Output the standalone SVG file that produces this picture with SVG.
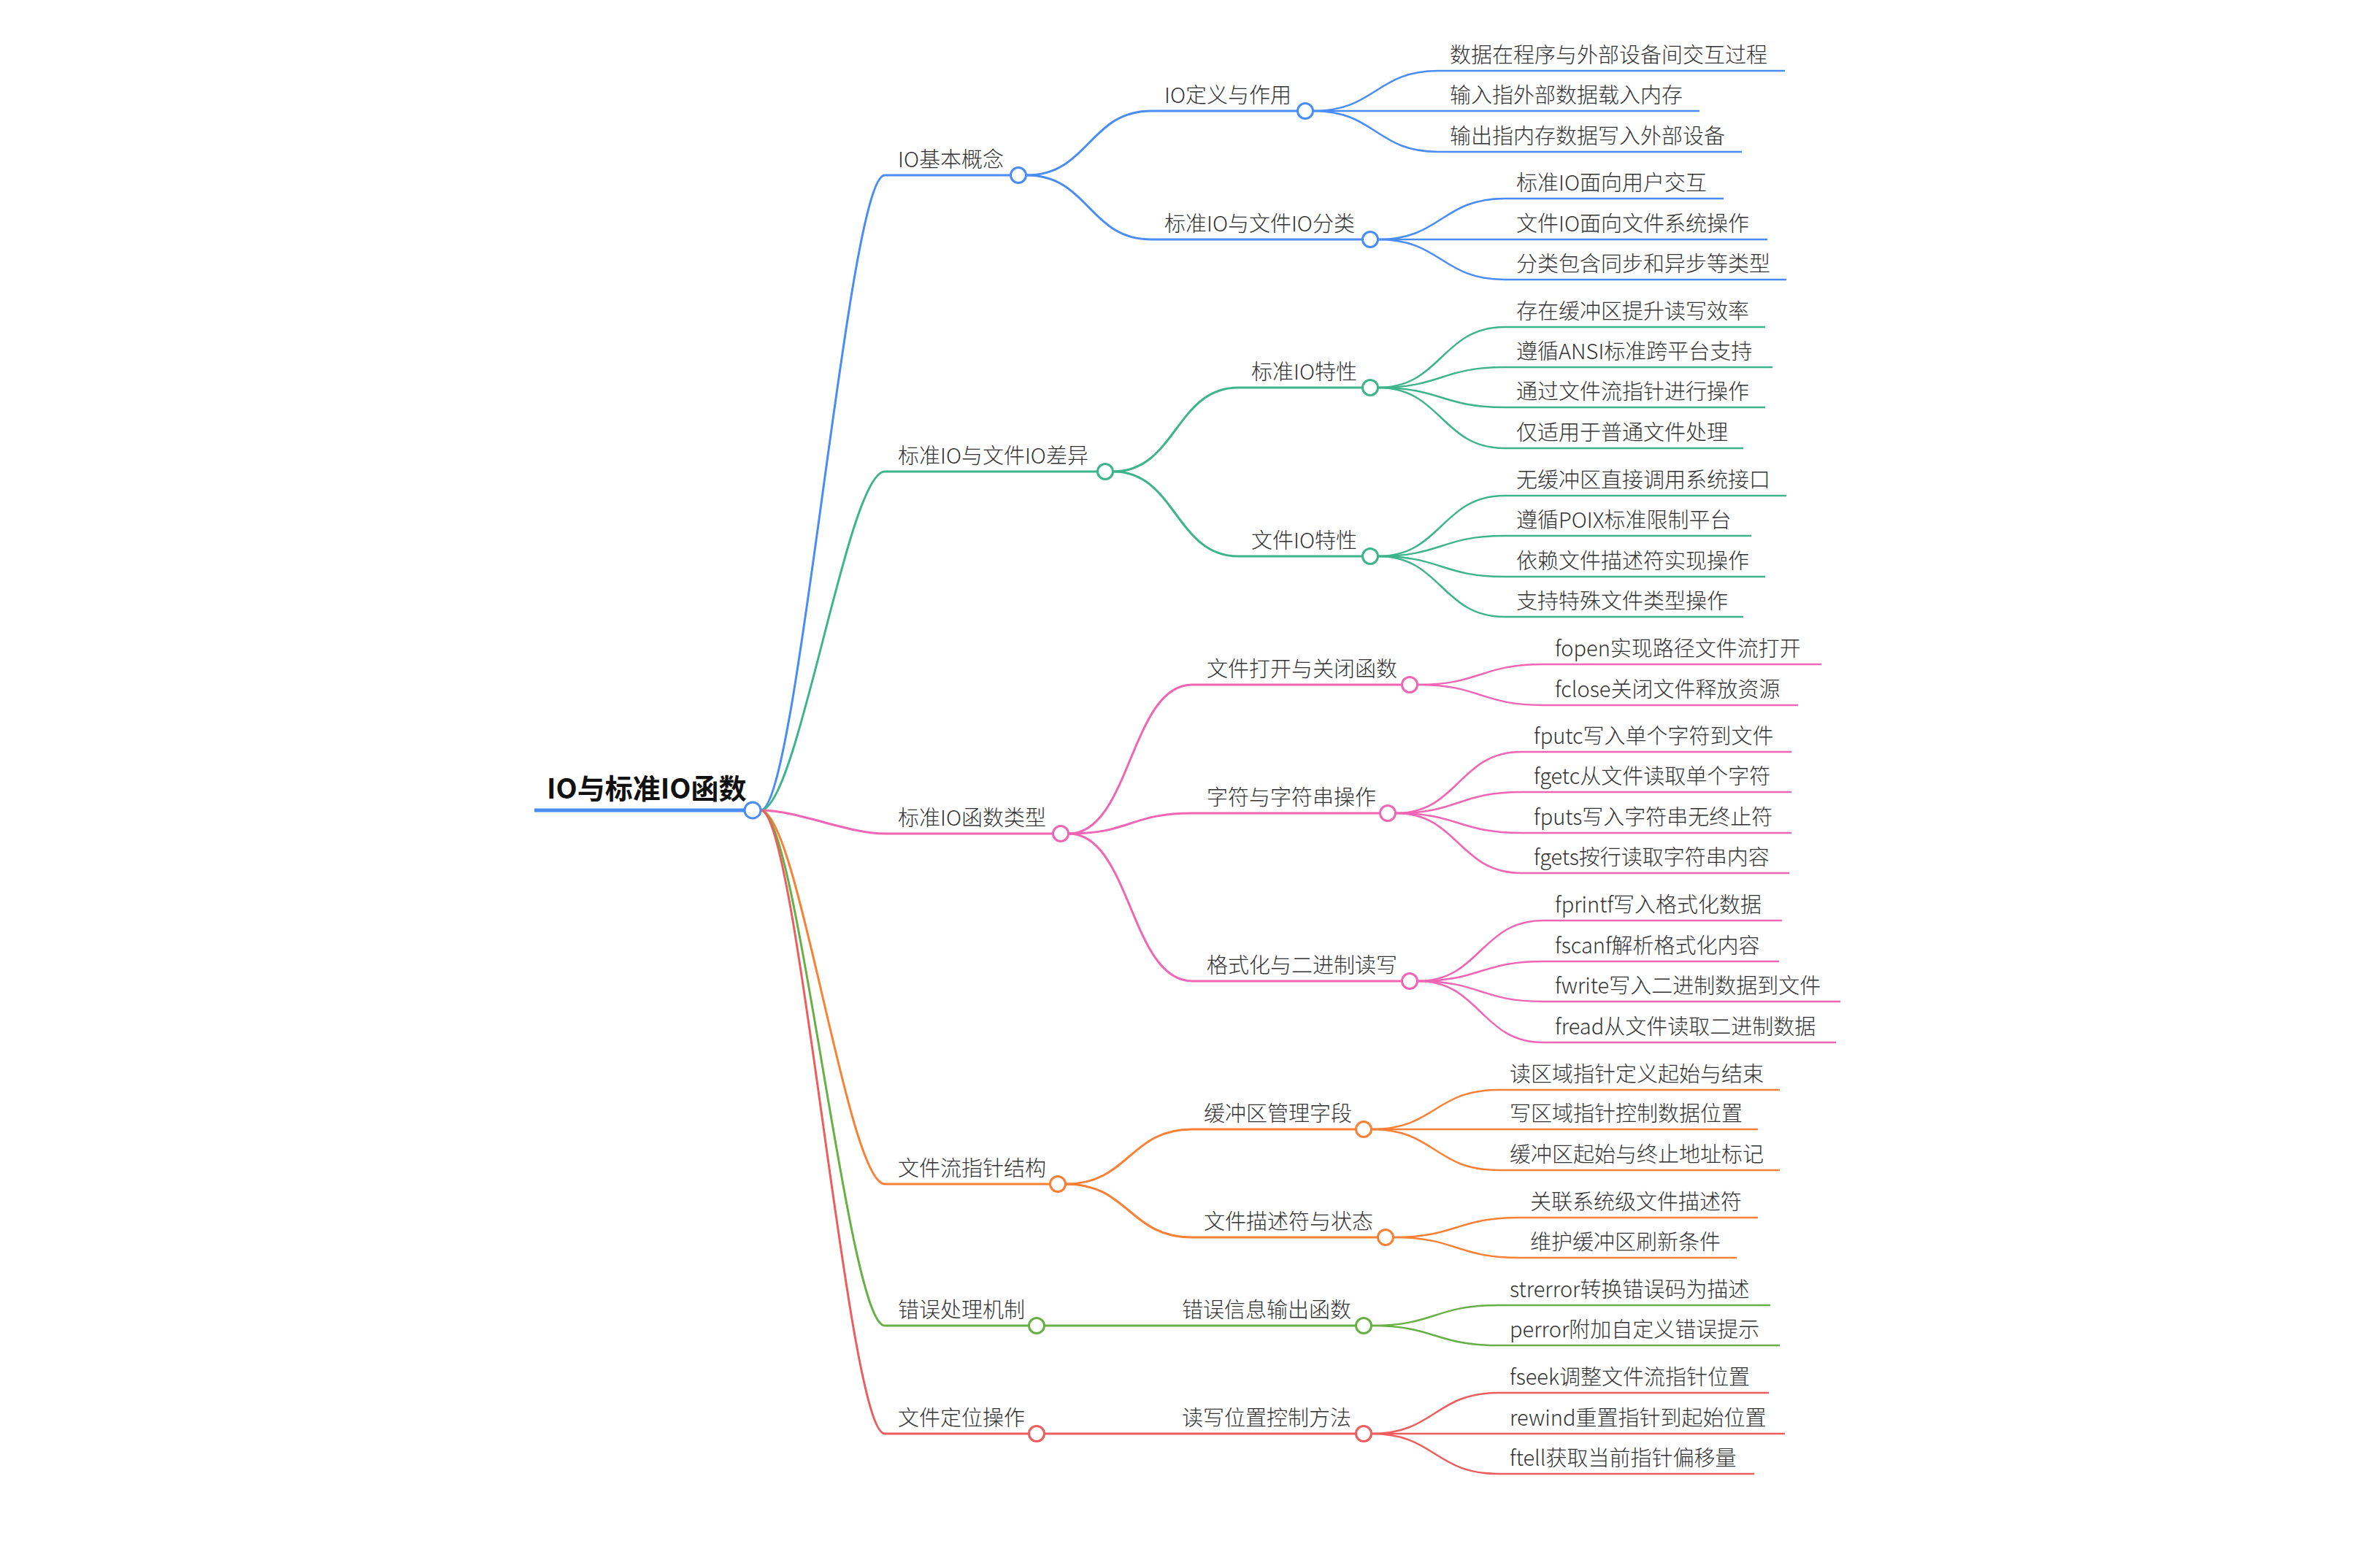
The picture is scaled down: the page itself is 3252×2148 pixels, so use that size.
<svg xmlns="http://www.w3.org/2000/svg" width="3252" height="2148" viewBox="0 0 3252 2148">
<style>
text{font-family:"Noto Sans CJK SC","Noto Sans",sans-serif;font-size:29px;fill:#333;font-weight:300}
.root{font-size:38px;font-weight:700;fill:#111}
path,line{fill:none;stroke-linecap:butt}
.c{fill:#fff;stroke-width:3}
.l1{stroke-width:3}
.l2{stroke-width:3}
.lf{stroke-width:2.5}
.b{stroke:#4A8CF6}.g{stroke:#3DB48C}.p{stroke:#F065B4}.o{stroke:#F98034}.e{stroke:#66B045}.r{stroke:#EE5D5D}
</style>
<rect width="3252" height="2148" fill="#fff"/>
<g id="connectors">
<path class="l1 b" d="M1042 1110 C1093 1110,1161 240,1212 240"/>
<path class="l1 g" d="M1042 1110 C1093 1110,1161 646,1212 646"/>
<path class="l1 p" d="M1042 1110 C1093 1110,1161 1142,1212 1142"/>
<path class="l1 o" d="M1042 1110 C1093 1110,1161 1622,1212 1622"/>
<path class="l1 e" d="M1042 1110 C1093 1110,1161 1816,1212 1816"/>
<path class="l1 r" d="M1042 1110 C1093 1110,1161 1964,1212 1964"/>
<path class="l2 b" d="M1406 240 C1491.5 240,1491.5 152,1577 152"/>
<path class="l2 b" d="M1406 240 C1491.5 240,1491.5 328,1577 328"/>
<path class="l2 g" d="M1525 646 C1610.5 646,1610.5 531,1696 531"/>
<path class="l2 g" d="M1525 646 C1610.5 646,1610.5 762,1696 762"/>
<path class="l2 p" d="M1464 1142 C1548.5 1142,1548.5 938,1633 938"/>
<path class="l2 p" d="M1464 1142 C1548.5 1142,1548.5 1114,1633 1114"/>
<path class="l2 p" d="M1464 1142 C1548.5 1142,1548.5 1344,1633 1344"/>
<path class="l2 o" d="M1460 1622 C1546.5 1622,1546.5 1547,1633 1547"/>
<path class="l2 o" d="M1460 1622 C1546.5 1622,1546.5 1695,1633 1695"/>
<path class="l2 e" d="M1431 1816 L1601 1816"/>
<path class="l2 r" d="M1431 1964 L1601 1964"/>
<path class="lf b" d="M1799 152 C1884.5 152,1884.5 97,1970 97"/>
<path class="lf b" d="M1799 152 L1970 152"/>
<path class="lf b" d="M1799 152 C1884.5 152,1884.5 208,1970 208"/>
<path class="lf b" d="M1888 328 C1974.5 328,1974.5 272,2061 272"/>
<path class="lf b" d="M1888 328 L2061 328"/>
<path class="lf b" d="M1888 328 C1974.5 328,1974.5 383,2061 383"/>
<path class="lf g" d="M1888 531 C1974.5 531,1974.5 448,2061 448"/>
<path class="lf g" d="M1888 531 C1974.5 531,1974.5 503,2061 503"/>
<path class="lf g" d="M1888 531 C1974.5 531,1974.5 558,2061 558"/>
<path class="lf g" d="M1888 531 C1974.5 531,1974.5 614,2061 614"/>
<path class="lf g" d="M1888 762 C1974.5 762,1974.5 679,2061 679"/>
<path class="lf g" d="M1888 762 C1974.5 762,1974.5 734,2061 734"/>
<path class="lf g" d="M1888 762 C1974.5 762,1974.5 790,2061 790"/>
<path class="lf g" d="M1888 762 C1974.5 762,1974.5 845,2061 845"/>
<path class="lf p" d="M1942 938 C2028 938,2028 910,2114 910"/>
<path class="lf p" d="M1942 938 C2028 938,2028 966,2114 966"/>
<path class="lf p" d="M1912 1114 C1998 1114,1998 1030,2084 1030"/>
<path class="lf p" d="M1912 1114 C1998 1114,1998 1085,2084 1085"/>
<path class="lf p" d="M1912 1114 C1998 1114,1998 1141,2084 1141"/>
<path class="lf p" d="M1912 1114 C1998 1114,1998 1196,2084 1196"/>
<path class="lf p" d="M1942 1344 C2028 1344,2028 1261,2114 1261"/>
<path class="lf p" d="M1942 1344 C2028 1344,2028 1317,2114 1317"/>
<path class="lf p" d="M1942 1344 C2028 1344,2028 1372,2114 1372"/>
<path class="lf p" d="M1942 1344 C2028 1344,2028 1428,2114 1428"/>
<path class="lf o" d="M1879 1547 C1965.5 1547,1965.5 1493,2052 1493"/>
<path class="lf o" d="M1879 1547 L2052 1547"/>
<path class="lf o" d="M1879 1547 C1965.5 1547,1965.5 1603,2052 1603"/>
<path class="lf o" d="M1909 1695 C1995 1695,1995 1668,2081 1668"/>
<path class="lf o" d="M1909 1695 C1995 1695,1995 1723,2081 1723"/>
<path class="lf e" d="M1879 1816 C1965.5 1816,1965.5 1788,2052 1788"/>
<path class="lf e" d="M1879 1816 C1965.5 1816,1965.5 1843,2052 1843"/>
<path class="lf r" d="M1879 1964 C1965.5 1964,1965.5 1908,2052 1908"/>
<path class="lf r" d="M1879 1964 L2052 1964"/>
<path class="lf r" d="M1879 1964 C1965.5 1964,1965.5 2019,2052 2019"/>
</g>
<g id="root"><line x1="732" y1="1110" x2="1020" y2="1110" stroke="#4A8CF6" stroke-width="5"/><text class="root" x="749" y="1094">IO与标准IO函数</text><circle class="c b" cx="1031" cy="1110" r="11"/></g>
<g id="n1"><line class="l1 b" x1="1212" y1="240" x2="1385" y2="240"/><text x="1230" y="229">IO基本概念</text><circle class="c b" cx="1395" cy="240" r="10.5"/></g>
<g id="n2"><line class="l1 g" x1="1212" y1="646" x2="1504" y2="646"/><text x="1230" y="635">标准IO与文件IO差异</text><circle class="c g" cx="1514" cy="646" r="10.5"/></g>
<g id="n3"><line class="l1 p" x1="1212" y1="1142" x2="1443" y2="1142"/><text x="1230" y="1131">标准IO函数类型</text><circle class="c p" cx="1453" cy="1142" r="10.5"/></g>
<g id="n4"><line class="l1 o" x1="1212" y1="1622" x2="1439" y2="1622"/><text x="1230" y="1611">文件流指针结构</text><circle class="c o" cx="1449" cy="1622" r="10.5"/></g>
<g id="n5"><line class="l1 e" x1="1212" y1="1816" x2="1410" y2="1816"/><text x="1230" y="1805">错误处理机制</text><circle class="c e" cx="1420" cy="1816" r="10.5"/></g>
<g id="n6"><line class="l1 r" x1="1212" y1="1964" x2="1410" y2="1964"/><text x="1230" y="1953">文件定位操作</text><circle class="c r" cx="1420" cy="1964" r="10.5"/></g>
<g id="n1-1"><line class="l2 b" x1="1577" y1="152" x2="1778" y2="152"/><text x="1595" y="141">IO定义与作用</text><circle class="c b" cx="1788" cy="152" r="10.5"/></g>
<g id="n1-2"><line class="l2 b" x1="1577" y1="328" x2="1867" y2="328"/><text x="1595" y="317">标准IO与文件IO分类</text><circle class="c b" cx="1877" cy="328" r="10.5"/></g>
<g id="n2-1"><line class="l2 g" x1="1696" y1="531" x2="1867" y2="531"/><text x="1714" y="520">标准IO特性</text><circle class="c g" cx="1877" cy="531" r="10.5"/></g>
<g id="n2-2"><line class="l2 g" x1="1696" y1="762" x2="1867" y2="762"/><text x="1714" y="751">文件IO特性</text><circle class="c g" cx="1877" cy="762" r="10.5"/></g>
<g id="n3-1"><line class="l2 p" x1="1633" y1="938" x2="1921" y2="938"/><text x="1653" y="927">文件打开与关闭函数</text><circle class="c p" cx="1931" cy="938" r="10.5"/></g>
<g id="n3-2"><line class="l2 p" x1="1633" y1="1114" x2="1891" y2="1114"/><text x="1653" y="1103">字符与字符串操作</text><circle class="c p" cx="1901" cy="1114" r="10.5"/></g>
<g id="n3-3"><line class="l2 p" x1="1633" y1="1344" x2="1921" y2="1344"/><text x="1653" y="1333">格式化与二进制读写</text><circle class="c p" cx="1931" cy="1344" r="10.5"/></g>
<g id="n4-1"><line class="l2 o" x1="1633" y1="1547" x2="1858" y2="1547"/><text x="1649" y="1536">缓冲区管理字段</text><circle class="c o" cx="1868" cy="1547" r="10.5"/></g>
<g id="n4-2"><line class="l2 o" x1="1633" y1="1695" x2="1888" y2="1695"/><text x="1649" y="1684">文件描述符与状态</text><circle class="c o" cx="1898" cy="1695" r="10.5"/></g>
<g id="n5-1"><line class="l2 e" x1="1601" y1="1816" x2="1858" y2="1816"/><text x="1619" y="1805">错误信息输出函数</text><circle class="c e" cx="1868" cy="1816" r="10.5"/></g>
<g id="n6-1"><line class="l2 r" x1="1601" y1="1964" x2="1858" y2="1964"/><text x="1619" y="1953">读写位置控制方法</text><circle class="c r" cx="1868" cy="1964" r="10.5"/></g>
<g id="leaves">
<g id="l1"><line class="lf b" x1="1970" y1="97" x2="2445" y2="97"/><text x="1986" y="86">数据在程序与外部设备间交互过程</text></g>
<g id="l2"><line class="lf b" x1="1970" y1="152" x2="2328" y2="152"/><text x="1986" y="141">输入指外部数据载入内存</text></g>
<g id="l3"><line class="lf b" x1="1970" y1="208" x2="2386" y2="208"/><text x="1986" y="197">输出指内存数据写入外部设备</text></g>
<g id="l4"><line class="lf b" x1="2061" y1="272" x2="2361" y2="272"/><text x="2077" y="261">标准IO面向用户交互</text></g>
<g id="l5"><line class="lf b" x1="2061" y1="328" x2="2421" y2="328"/><text x="2077" y="317">文件IO面向文件系统操作</text></g>
<g id="l6"><line class="lf b" x1="2061" y1="383" x2="2447" y2="383"/><text x="2077" y="372">分类包含同步和异步等类型</text></g>
<g id="l7"><line class="lf g" x1="2061" y1="448" x2="2418" y2="448"/><text x="2077" y="437">存在缓冲区提升读写效率</text></g>
<g id="l8"><line class="lf g" x1="2061" y1="503" x2="2428" y2="503"/><text x="2077" y="492">遵循ANSI标准跨平台支持</text></g>
<g id="l9"><line class="lf g" x1="2061" y1="558" x2="2418" y2="558"/><text x="2077" y="547">通过文件流指针进行操作</text></g>
<g id="l10"><line class="lf g" x1="2061" y1="614" x2="2388" y2="614"/><text x="2077" y="603">仅适用于普通文件处理</text></g>
<g id="l11"><line class="lf g" x1="2061" y1="679" x2="2447" y2="679"/><text x="2077" y="668">无缓冲区直接调用系统接口</text></g>
<g id="l12"><line class="lf g" x1="2061" y1="734" x2="2399" y2="734"/><text x="2077" y="723">遵循POIX标准限制平台</text></g>
<g id="l13"><line class="lf g" x1="2061" y1="790" x2="2418" y2="790"/><text x="2077" y="779">依赖文件描述符实现操作</text></g>
<g id="l14"><line class="lf g" x1="2061" y1="845" x2="2388" y2="845"/><text x="2077" y="834">支持特殊文件类型操作</text></g>
<g id="l15"><line class="lf p" x1="2114" y1="910" x2="2495" y2="910"/><text x="2130" y="899">fopen实现路径文件流打开</text></g>
<g id="l16"><line class="lf p" x1="2114" y1="966" x2="2463" y2="966"/><text x="2130" y="955">fclose关闭文件释放资源</text></g>
<g id="l17"><line class="lf p" x1="2084" y1="1030" x2="2454" y2="1030"/><text x="2101" y="1019">fputc写入单个字符到文件</text></g>
<g id="l18"><line class="lf p" x1="2084" y1="1085" x2="2454" y2="1085"/><text x="2101" y="1074">fgetc从文件读取单个字符</text></g>
<g id="l19"><line class="lf p" x1="2084" y1="1141" x2="2454" y2="1141"/><text x="2101" y="1130">fputs写入字符串无终止符</text></g>
<g id="l20"><line class="lf p" x1="2084" y1="1196" x2="2451" y2="1196"/><text x="2101" y="1185">fgets按行读取字符串内容</text></g>
<g id="l21"><line class="lf p" x1="2114" y1="1261" x2="2441" y2="1261"/><text x="2130" y="1250">fprintf写入格式化数据</text></g>
<g id="l22"><line class="lf p" x1="2114" y1="1317" x2="2437" y2="1317"/><text x="2130" y="1306">fscanf解析格式化内容</text></g>
<g id="l23"><line class="lf p" x1="2114" y1="1372" x2="2521" y2="1372"/><text x="2130" y="1361">fwrite写入二进制数据到文件</text></g>
<g id="l24"><line class="lf p" x1="2114" y1="1428" x2="2515" y2="1428"/><text x="2130" y="1417">fread从文件读取二进制数据</text></g>
<g id="l25"><line class="lf o" x1="2052" y1="1493" x2="2438" y2="1493"/><text x="2068" y="1482">读区域指针定义起始与结束</text></g>
<g id="l26"><line class="lf o" x1="2052" y1="1547" x2="2408" y2="1547"/><text x="2068" y="1536">写区域指针控制数据位置</text></g>
<g id="l27"><line class="lf o" x1="2052" y1="1603" x2="2438" y2="1603"/><text x="2068" y="1592">缓冲区起始与终止地址标记</text></g>
<g id="l28"><line class="lf o" x1="2081" y1="1668" x2="2408" y2="1668"/><text x="2096" y="1657">关联系统级文件描述符</text></g>
<g id="l29"><line class="lf o" x1="2081" y1="1723" x2="2379" y2="1723"/><text x="2096" y="1712">维护缓冲区刷新条件</text></g>
<g id="l30"><line class="lf e" x1="2052" y1="1788" x2="2425" y2="1788"/><text x="2068" y="1777">strerror转换错误码为描述</text></g>
<g id="l31"><line class="lf e" x1="2052" y1="1843" x2="2438" y2="1843"/><text x="2068" y="1832">perror附加自定义错误提示</text></g>
<g id="l32"><line class="lf r" x1="2052" y1="1908" x2="2423" y2="1908"/><text x="2068" y="1897">fseek调整文件流指针位置</text></g>
<g id="l33"><line class="lf r" x1="2052" y1="1964" x2="2445" y2="1964"/><text x="2068" y="1953">rewind重置指针到起始位置</text></g>
<g id="l34"><line class="lf r" x1="2052" y1="2019" x2="2403" y2="2019"/><text x="2068" y="2008">ftell获取当前指针偏移量</text></g>
</g>
</svg>
